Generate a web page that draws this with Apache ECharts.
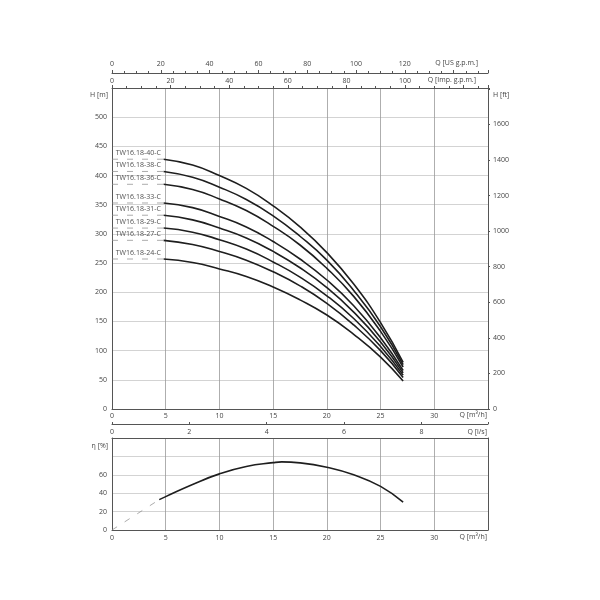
<!DOCTYPE html>
<html><head><meta charset="utf-8">
<script src="https://cdn.jsdelivr.net/npm/echarts@6/dist/echarts.min.js"></script>
<style>html,body{margin:0;padding:0;background:#fff}#c{width:600px;height:600px}</style>
</head><body><div id="c"></div><script>
// ---- data ----
const qHead = [4.8, 7.5, 10, 12.5, 15, 17.5, 20, 22.5, 25, 27.1];
const models = ['TW16.18-40-C','TW16.18-38-C','TW16.18-36-C','TW16.18-33-C','TW16.18-31-C','TW16.18-29-C','TW16.18-27-C','TW16.18-24-C'];
const head40 = [428, 418, 400, 378, 348, 312, 268, 214, 148, 80];
const head38 = [407, 397, 380, 359, 331, 296, 255, 203, 141, 76];
const head36 = [385, 376, 360, 340, 313, 281, 241, 193, 133, 72];
const head33 = [353, 345, 330, 312, 287, 257, 221, 177, 122, 66];
const head31 = [332, 324, 310, 293, 270, 242, 208, 166, 115, 62];
const head29 = [310, 303, 290, 274, 252, 226, 194, 155, 107, 58];
const head27 = [289, 282, 270, 255, 235, 211, 181, 144, 100, 54];
const head24 = [257, 251, 240, 227, 209, 187, 161, 128, 89, 48];
const heads = [head40, head38, head36, head33, head31, head29, head27, head24];
const qEff = [4.4, 5, 7.5, 10, 12.5, 15, 15.8, 17.5, 20, 22.5, 25, 27.1];
const eff = [33, 36.3, 49.5, 61, 69, 73.2, 74, 73, 68.3, 60, 47.4, 30.2];
const qTicksM3h = [0, 35, 5];   // min, max, interval
const hTicksM = [0, 550, 50];
const effTicks = [0, 100, 20];
const axisNames = {m3h:'Q [m³/h]', ls:'Q [l/s]', imp:'Q [Imp. g.p.m.]', us:'Q [US g.p.m.]', hm:'H [m]', hft:'H [ft]', eta:'η [%]'};
// unit conversions
const US_GPM = 4.40287, IMP_GPM = 3.66615, LS = 1/3.6, FT = 3.28084;

const FONT = 'Open Sans';
const TXT = '#444';
const FS = 7;
const BORDER = '#555';

function lbl(extra){ return Object.assign({color:TXT, fontSize:FS, fontFamily:FONT}, extra||{}); }

const chart = echarts.init(document.getElementById('c'));

const series = [];
heads.forEach((h, i) => {
  series.push({
    type:'line', xAxisIndex:0, yAxisIndex:0, smooth:true, showSymbol:false, silent:true,
    data: qHead.map((q, k) => [q, h[k]]),
    lineStyle:{color:'#1e1e1e', width:1.6}
  });
  series.push({
    type:'line', xAxisIndex:0, yAxisIndex:0, showSymbol:false, silent:true,
    data: [[0, h[0]], [qHead[0], h[0]]],
    lineStyle:{color:'#888', width:0.7, type:[6,9]}
  });
  series.push({
    type:'scatter', xAxisIndex:0, yAxisIndex:0, symbolSize:0, silent:true,
    data: [[0.35, h[0], models[i]]],
    label:{show:true, position:'right', distance:0, offset:[0,-6],
      formatter: p => p.data[2], color:'#222', fontSize:FS, fontFamily:FONT}
  });
});
series.push({
  type:'line', xAxisIndex:4, yAxisIndex:2, smooth:true, showSymbol:false, silent:true,
  data: qEff.map((q,k)=>[q, eff[k]]), lineStyle:{color:'#1e1e1e', width:1.6}
});
series.push({
  type:'line', xAxisIndex:4, yAxisIndex:2, showSymbol:false, silent:true,
  data: [[0,0],[qEff[0], eff[0]]], lineStyle:{color:'#888', width:0.7, type:[6,9]}
});

const AL = (c) => ({show:true, onZero:false, lineStyle:{color:c||BORDER, width:1}});

const option = {
  animation:false,
  backgroundColor:'#fff',
  grid:[
    {left:112, right:112, top:88, height:321},
    {left:112, right:112, top:438, height:92}
  ],
  xAxis:[
    { // 0 main m3/h
      type:'value', gridIndex:0, position:'bottom', min:qTicksM3h[0], max:qTicksM3h[1], interval:qTicksM3h[2],
      axisLine:AL(), axisTick:{show:false},
      axisLabel:lbl({margin:3, formatter:v => v===qTicksM3h[1] ? '' : v}),
      splitLine:{show:true, lineStyle:{color:'#999', width:0.8}}
    },
    { // 1 Imp gpm top
      type:'value', gridIndex:0, position:'top', min:0, max:qTicksM3h[1]*IMP_GPM, interval:20,
      axisLine:AL(),
      axisTick:{show:true, length:3, lineStyle:{color:BORDER}},
      minorTick:{show:true, splitNumber:4, length:2, lineStyle:{color:BORDER}},
      axisLabel:lbl({margin:4, formatter:v => v>=120 ? '' : v}),
      splitLine:{show:false}
    },
    { // 2 US gpm top
      type:'value', gridIndex:0, position:'top', offset:15, min:0, max:qTicksM3h[1]*US_GPM, interval:20,
      axisLine:AL(),
      axisTick:{show:true, length:3, lineStyle:{color:BORDER}},
      minorTick:{show:true, splitNumber:4, length:2, lineStyle:{color:BORDER}},
      axisLabel:lbl({margin:6, formatter:v => v>=140 ? '' : v}),
      splitLine:{show:false}
    },
    { // 3 l/s bottom
      type:'value', gridIndex:0, position:'bottom', offset:15, min:0, max:qTicksM3h[1]*LS, interval:2,
      axisLine:AL(),
      axisTick:{show:true, length:2, inside:true, lineStyle:{color:BORDER}},
      axisLabel:lbl({margin:4, formatter:v => v>8 ? '' : v}),
      splitLine:{show:false}
    },
    { // 4 bottom grid m3/h
      type:'value', gridIndex:1, position:'bottom', min:qTicksM3h[0], max:qTicksM3h[1], interval:qTicksM3h[2],
      axisLine:AL(), axisTick:{show:false},
      axisLabel:lbl({margin:4, formatter:v => v===qTicksM3h[1] ? '' : v}),
      splitLine:{show:true, lineStyle:{color:'#999', width:0.8}}
    },
    { // 5 bottom grid top border
      type:'value', gridIndex:1, position:'top', min:0, max:qTicksM3h[1],
      axisLine:AL(), axisTick:{show:false},
      axisLabel:{show:false}, splitLine:{show:false}
    }
  ],
  yAxis:[
    { // 0 H m
      type:'value', gridIndex:0, position:'left', min:hTicksM[0], max:hTicksM[1], interval:hTicksM[2],
      axisLine:AL(),
      axisTick:{show:false},
      axisLabel:lbl({margin:5, formatter:v => v===hTicksM[1] ? '' : v}),
      splitLine:{show:true, lineStyle:{color:'#c8c8c8', width:0.8}}
    },
    { // 1 H ft
      type:'value', gridIndex:0, position:'right', min:0, max:hTicksM[1]*FT, interval:200,
      axisLine:AL(),
      axisTick:{show:true, length:2, lineStyle:{color:BORDER}},
      axisLabel:lbl({margin:5, formatter:v => v>1600 ? '' : v}),
      splitLine:{show:false}
    },
    { // 2 eta
      type:'value', gridIndex:1, position:'left', min:effTicks[0], max:effTicks[1], interval:effTicks[2],
      axisLine:AL(),
      axisTick:{show:false},
      axisLabel:lbl({margin:5, formatter:v => v>60 ? '' : v}),
      splitLine:{show:true, lineStyle:{color:'#c8c8c8', width:0.8}}
    },
    { // 3 right border bottom grid
      type:'value', gridIndex:1, position:'right', min:0, max:100,
      axisLine:AL(), axisTick:{show:false},
      axisLabel:{show:false}, splitLine:{show:false}
    }
  ],
  series: series
};
chart.setOption(option);

// axis names placed from the grids' pixel corners
const tl0 = chart.convertToPixel({gridIndex:0}, [qTicksM3h[0], hTicksM[1]]);
const br0 = chart.convertToPixel({gridIndex:0}, [qTicksM3h[1], hTicksM[0]]);
const tl1 = chart.convertToPixel({gridIndex:1}, [qTicksM3h[0], effTicks[1]]);
const br1 = chart.convertToPixel({gridIndex:1}, [qTicksM3h[1], effTicks[0]]);
function txt(s, x, y, align){
  return {type:'text', x:x, y:y, silent:true,
    style:{text:s, fill:TXT, font:FS+'px "'+FONT+'"', align:align, verticalAlign:'middle'}};
}
chart.setOption({graphic:[
  txt(axisNames.us,  br0[0]-10, tl0[1]-25, 'right'),
  txt(axisNames.imp, br0[0]-12, tl0[1]-8,  'right'),
  txt(axisNames.m3h, br0[0]-1,  br0[1]+6,  'right'),
  txt(axisNames.ls,  br0[0]-1,  br0[1]+23, 'right'),
  txt(axisNames.hm,  tl0[0]-4,  tl0[1]+7,  'right'),
  txt(axisNames.hft, br0[0]+5,  tl0[1]+7,  'left'),
  txt(axisNames.eta, tl1[0]-4,  tl1[1]+8,  'right'),
  txt(axisNames.m3h, br1[0]-1,  br1[1]+7,  'right')
]});
</script></body></html>
